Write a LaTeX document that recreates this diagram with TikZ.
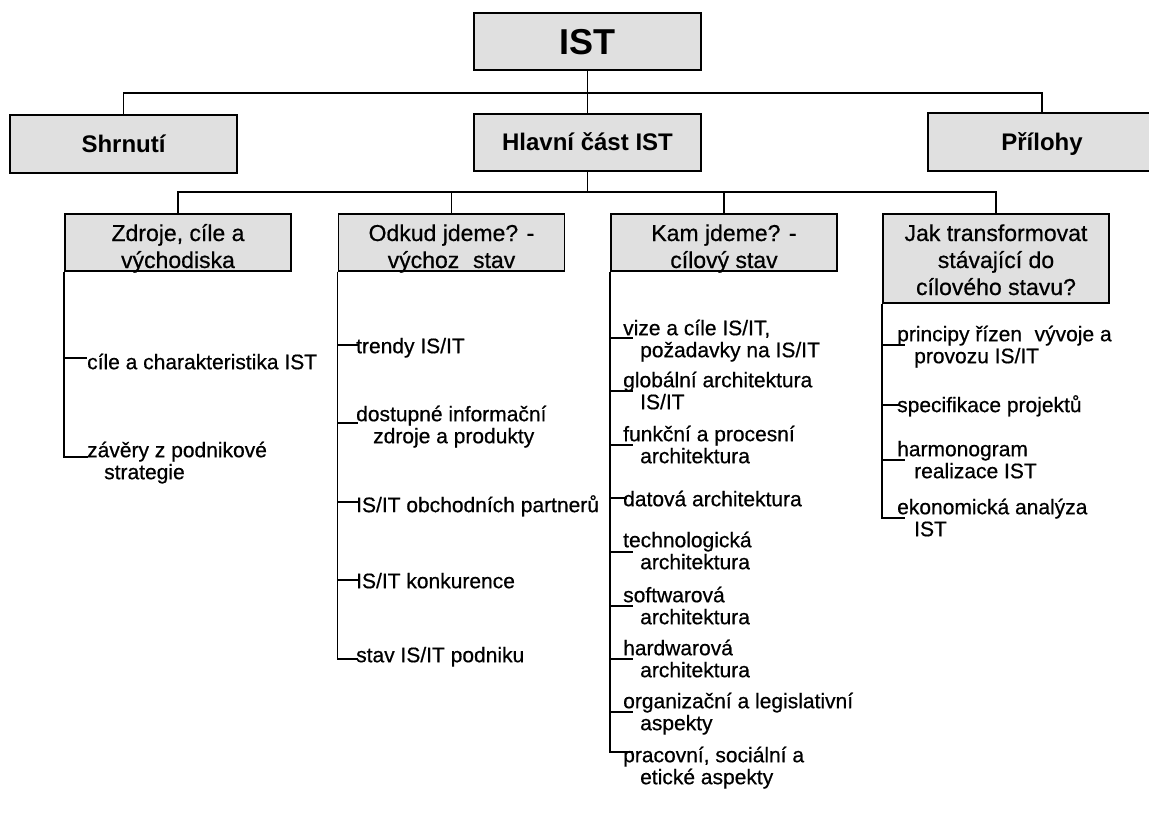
\documentclass[tikz,border=0pt]{standalone}
\usepackage{fontspec}
\setmainfont{Liberation Sans}
\newfontfamily\medfont{Liberation Sans}[FakeBold=0.6]
\definecolor{boxgray}{RGB}{224,224,224}
\newcommand{\mystrut}{\rule{0pt}{16pt}}
\newcommand{\myind}{\hspace*{17pt}}
\newcommand{\htop}[1]{\rule{0pt}{#1}}
\newcommand{\hbot}{\rule[-3pt]{0pt}{3pt}}
\tikzset{
  box/.style={draw=black, line width=1.8pt, fill=boxgray, inner sep=0pt, align=center},
  toptext/.style={font=\fontsize{24}{28}\selectfont\bfseries, text height=17pt, text depth=0pt},
  hdr/.style={font=\medfont\fontsize{23}{27}\selectfont},
  item/.style={anchor=north west, inner sep=0pt, align=left, font=\medfont\fontsize{21}{22}\selectfont},
  conn/.style={line width=1.6pt},
}
\begin{document}
\begin{tikzpicture}[x=1pt,y=-1pt]
\useasboundingbox (0,0) rectangle (1149,824);
% level 1 and 2
\node[box, minimum width=227pt, minimum height=57pt, font=\fontsize{36}{40}\selectfont\bfseries, text height=26pt, text depth=0pt] (ist) at (587.5,41.5) {IST};
\node[box, toptext, minimum width=227pt, minimum height=58pt] (shr) at (123.5,144) {Shrnutí};
\node[box, toptext, minimum width=227pt, minimum height=57pt] (hl) at (587.5,142.5) {Hlavní část IST};
\node[box, toptext, minimum width=228pt, minimum height=58pt] (pril) at (1042,142) {Přílohy};
\coordinate (b1) at (587.5,93);
\draw[conn] (ist.south) -- (hl.north);
\draw[conn] (shr.north) |- (b1) -| (pril.north);
% level 3
\node[box, hdr, minimum width=226pt, minimum height=57pt] (zdr) at (178,242.5) {\htop{27pt}\smash{Zdroje, cíle a}\\\smash{východiska}\hbot};
\node[box, hdr, minimum width=226pt, minimum height=57pt] (odk) at (451.5,242.5) {\htop{27pt}\smash{Odkud jdeme? -}\\\smash{výchoz\hspace{0.6em}stav}\hbot};
\node[box, hdr, minimum width=226pt, minimum height=57pt] (kam) at (724,242.5) {\htop{27pt}\smash{Kam jdeme? -}\\\smash{cílový stav}\hbot};
\node[box, hdr, minimum width=226pt, minimum height=89pt] (jak) at (996,258.5) {\htop{22pt}\smash{Jak transformovat}\\\smash{stávající do}\\\smash{cílového stavu?}\hbot};
\coordinate (b2) at (587.5,192);
\draw[conn] (hl.south) -- (b2);
\draw[conn] (zdr.north) |- (b2) -| (jak.north);
\draw[conn] (odk.north) -- (odk.north |- b2);
\draw[conn] (kam.north) -- (kam.north |- b2);
% Zdroje items
\node[item] (z1) at (87,353) {\mystrut cíle a charakteristika IST};
\node[item] (z2) at (87,441) {\mystrut závěry z podnikové\\\myind strategie};
\draw[conn] (zdr.south west) |- ([yshift=-5pt]z1.north west);
\draw[conn] (zdr.south west) |- ([xshift=1pt,yshift=-16pt]z2.north west);
% Odkud items
\node[item] (o1) at (356,337) {\mystrut trendy IS/IT};
\node[item] (o2) at (356,405) {\mystrut dostupné informační\\\myind zdroje a produkty};
\node[item] (o3) at (356,495) {\mystrut IS/IT obchodních partnerů};
\node[item] (o4) at (356,572) {\mystrut IS/IT konkurence};
\node[item] (o5) at (356,646) {\mystrut stav IS/IT podniku};
\draw[conn] (odk.south west) |- ([xshift=2pt,yshift=-8pt]o1.north west);
\draw[conn] (odk.south west) |- ([xshift=2pt,yshift=-18pt]o2.north west);
\draw[conn] (odk.south west) |- ([xshift=2pt,yshift=-7pt]o3.north west);
\draw[conn] (odk.south west) |- ([xshift=2pt,yshift=-8pt]o4.north west);
\draw[conn] (odk.south west) |- ([xshift=2pt,yshift=-13pt]o5.north west);
% Kam items
\node[item] (k1) at (623,319) {\mystrut vize a cíle IS/IT,\\\myind požadavky na IS/IT};
\node[item] (k2) at (623,371) {\mystrut globální architektura\\\myind IS/IT};
\node[item] (k3) at (623,425) {\mystrut funkční a procesní\\\myind architektura};
\node[item] (k4) at (623,490) {\mystrut datová architektura};
\node[item] (k5) at (623,531) {\mystrut technologická\\\myind architektura};
\node[item] (k6) at (623,586) {\mystrut softwarová\\\myind architektura};
\node[item] (k7) at (623,639) {\mystrut hardwarová\\\myind architektura};
\node[item] (k8) at (623,692) {\mystrut organizační a legislativní\\\myind aspekty};
\node[item] (k9) at (623,746) {\mystrut pracovní, sociální a\\\myind etické aspekty};
\draw[conn] (kam.south west) |- ([xshift=10pt,yshift=-19pt]k1.north west);
\draw[conn] (kam.south west) |- ([xshift=10pt,yshift=-20pt]k2.north west);
\draw[conn] (kam.south west) |- ([xshift=10pt,yshift=-20pt]k3.north west);
\draw[conn] (kam.south west) |- ([xshift=4pt,yshift=-8pt]k4.north west);
\draw[conn] (kam.south west) |- ([xshift=10pt,yshift=-21pt]k5.north west);
\draw[conn] (kam.south west) |- ([xshift=10pt,yshift=-20pt]k6.north west);
\draw[conn] (kam.south west) |- ([xshift=10pt,yshift=-20pt]k7.north west);
\draw[conn] (kam.south west) |- ([xshift=10pt,yshift=-20pt]k8.north west);
\draw[conn] (kam.south west) |- ([xshift=10pt,yshift=-6pt]k9.north west);
% Jak items
\node[item] (j1) at (897,325) {\mystrut principy řízen\hspace{0.6em}vývoje a\\\myind provozu IS/IT};
\node[item] (j2) at (897,395) {\mystrut specifikace projektů};
\node[item] (j3) at (897,440) {\mystrut harmonogram\\\myind realizace IST};
\node[item] (j4) at (897,498) {\mystrut ekonomická analýza\\\myind IST};
\draw[conn] (jak.south west) |- ([xshift=8pt,yshift=-20pt]j1.north west);
\draw[conn] (jak.south west) |- ([xshift=2pt,yshift=-10pt]j2.north west);
\draw[conn] (jak.south west) |- ([xshift=8pt,yshift=-20pt]j3.north west);
\draw[conn] (jak.south west) |- ([xshift=8pt,yshift=-20pt]j4.north west);
\end{tikzpicture}
\end{document}
